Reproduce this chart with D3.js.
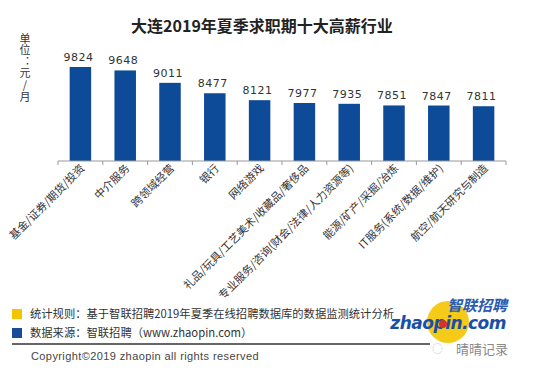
<!DOCTYPE html>
<html><head><meta charset="utf-8">
<script src="https://cdn.jsdelivr.net/npm/d3@7"></script>
<style>body{margin:0;background:#fff;}svg{display:block;font-family:"Noto Sans CJK SC","Noto Sans",sans-serif;}</style>
</head><body>
<svg id="c" width="550" height="372"></svg>
<script>
const categories = ["基金/证券/期货/投资","中介服务","跨领域经营","银行","网络游戏","礼品/玩具/工艺美术/收藏品/奢侈品","专业服务/咨询(财会/法律/人力资源等)","能源/矿产/采掘/冶炼","IT服务(系统/数据/维护)","航空/航天研究与制造"];
const values = [9824,9648,9011,8477,8121,7977,7935,7851,7847,7811];
const title = "大连2019年夏季求职期十大高薪行业";
const unitLabel = "单位：元/月";
const notes = ["统计规则：基于智联招聘2019年夏季在线招聘数据库的数据监测统计分析","数据来源：智联招聘（www.zhaopin.com）"];
const copyright = "Copyright©2019 zhaopin all rights reserved";

const svg = d3.select("#c");
const x = d3.scaleBand().domain(categories).range([58,506]).paddingInner(0.52).paddingOuter(0.26);
const y = d3.scaleLinear().domain([5000,9824]).range([161,67]);

svg.append("text").attr("x",262).attr("y",32).attr("text-anchor","middle")
  .attr("font-size",16).attr("font-weight","bold").attr("fill","#222").text(title);

svg.append("text").attr("x",25).attr("y",33)
  .style("writing-mode","vertical-rl").style("text-orientation","upright")
  .attr("font-size",11).attr("letter-spacing","0.6").attr("fill","#333").text(unitLabel);

svg.append("g").selectAll("rect").data(values).join("rect")
  .attr("x",(d,i)=>x(categories[i])).attr("width",x.bandwidth())
  .attr("y",d=>y(d)).attr("height",d=>161-y(d)).attr("fill","#0d4a97");

svg.append("g").selectAll("text").data(values).join("text")
  .attr("x",(d,i)=>x(categories[i])+x.bandwidth()/2-2).attr("y",d=>y(d)-6)
  .attr("text-anchor","middle").attr("font-size",11).attr("fill","#333")
  .attr("font-family","DejaVu Sans").attr("letter-spacing","0.5").text(d=>d);

// axis
const ax = svg.append("g");
ax.append("line").attr("x1",58).attr("x2",506).attr("y1",161).attr("y2",161).attr("stroke","#999").attr("stroke-width",1.2);
const edges = d3.range(11).map(i=>58+i*448/10);
ax.selectAll("line.t").data(edges).join("line").attr("class","t")
  .attr("x1",d=>d).attr("x2",d=>d).attr("y1",161).attr("y2",165).attr("stroke","#999");

svg.append("g").selectAll("text").data(categories).join("text")
  .attr("transform",d=>`translate(${x(d)+x.bandwidth()/2+5},${169}) rotate(-45)`)
  .attr("text-anchor","end").attr("font-size",11).attr("fill","#333").text(d=>d);

// legend notes
svg.append("rect").attr("x",12).attr("y",309).attr("width",10).attr("height",10).attr("fill","#f5c400");
svg.append("rect").attr("x",12).attr("y",328).attr("width",10).attr("height",10).attr("fill","#1a4a9c");
svg.append("text").attr("x",30).attr("y",318).attr("font-size",11.3).attr("fill","#333").text(notes[0]);
svg.append("text").attr("x",30).attr("y",337).attr("font-size",11.3).attr("fill","#333").text(notes[1]);
svg.append("line").attr("x1",12).attr("x2",430).attr("y1",344).attr("y2",344).attr("stroke","#333").attr("stroke-width",1.5);
svg.append("text").attr("x",31).attr("y",360).attr("font-size",11).attr("fill","#444").attr("font-family","Liberation Sans").attr("letter-spacing","0.4").text(copyright);

// logo
svg.append("circle").attr("cx",448).attr("cy",322).attr("r",21).attr("fill","#f5c400").attr("opacity",0.9);
svg.append("text").attr("x",507).attr("y",311).attr("text-anchor","end").attr("font-size",15).attr("font-weight","bold").attr("font-style","italic").attr("fill","#2a5bb0").text("智联招聘");
svg.append("text").attr("x",506).attr("y",329).attr("text-anchor","end").attr("font-size",17).attr("font-weight","bold").attr("font-style","italic").attr("font-family","DejaVu Sans").attr("fill","#1a4fa8").attr("letter-spacing","-0.5").text("zhaopin.com");
svg.append("circle").attr("cx",443).attr("cy",324).attr("r",4).attr("fill","#d9322a");
// watermark
svg.append("text").attr("x",432).attr("y",353).attr("font-size",11).attr("fill","#bbb").text("◌");
svg.append("text").attr("x",456).attr("y",354).attr("font-size",13).attr("fill","#888").text("晴晴记录");
</script>
</body></html>
